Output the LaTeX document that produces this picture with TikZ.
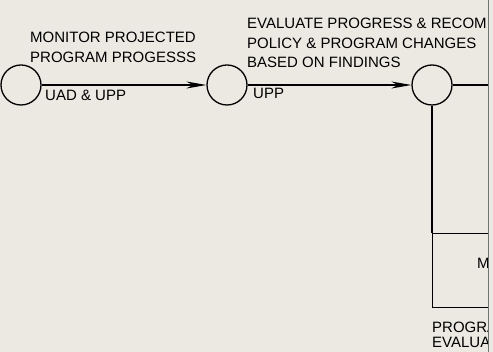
\documentclass[tikz,border=0pt]{standalone}
\usepackage{fontspec}
\setmainfont{Liberation Sans}
\usetikzlibrary{positioning, arrows.meta}
\definecolor{paper}{RGB}{235,233,226}
\tikzset{
    % Node styles
    event/.style={circle, draw, line width=1.3pt, minimum size=40pt, inner sep=0pt},
    task box/.style={rectangle, draw, line width=1.3pt, anchor=north west},
    % Arrow styles
    flow/.style={line width=1.3pt},
    arrow/.style={flow, -{Stealth[length=20pt, width=7pt]}},
    % Annotation styles
    lbl/.style={font=\fontsize{15}{19.5}\selectfont, align=left, inner sep=0pt, anchor=north west},
    edge line/.style={line width=0.8pt, black!55},
}

\begin{document}
\begin{tikzpicture}[x=1pt, y=-1pt]
    \fill[paper] (0,0) rectangle (493,352);
    \useasboundingbox (0,0) rectangle (493,352);

    \begin{scope}
    \clip (0,0) rectangle (488,352);

    % Events
    \node[event] (monitor) at (21,85) {};
    \node[event] (evaluate) at (227,85) {};
    \node[event] (review) at (432,85) {};
    \node[task box, minimum width=110pt, minimum height=74pt] (mbox) at (432,233) {};
    \coordinate (edge) at (488,85);

    % Activities
    \draw[arrow] (monitor) -- (evaluate);
    \draw[arrow] (evaluate) -- (review);
    \draw[flow] (review) -- (edge);
    \draw[flow] (review) -- (mbox.north west);

    % Labels
    \node[lbl] (monitor lbl) at (30,32) {MONITOR PROJECTED\\PROGRAM PROGESSS};
    \node[lbl] (monitor res) at (45,90) {UAD \& UPP};
    \node[lbl] (evaluate lbl) at (247,18) {EVALUATE PROGRESS \& RECOM\\POLICY \& PROGRAM CHANGES\\BASED ON FINDINGS};
    \node[lbl] (evaluate res) at (253,88) {UPP};
    \node[lbl] (mbox txt) at (477,258) {M};
    \node[lbl, font=\fontsize{15}{15}\selectfont] (mbox lbl) at (432,322) {PROGRA\\EVALUA};
    \end{scope}

    % Page edge
    \draw[edge line] (488,0) -- (488,352);
\end{tikzpicture}
\end{document}
